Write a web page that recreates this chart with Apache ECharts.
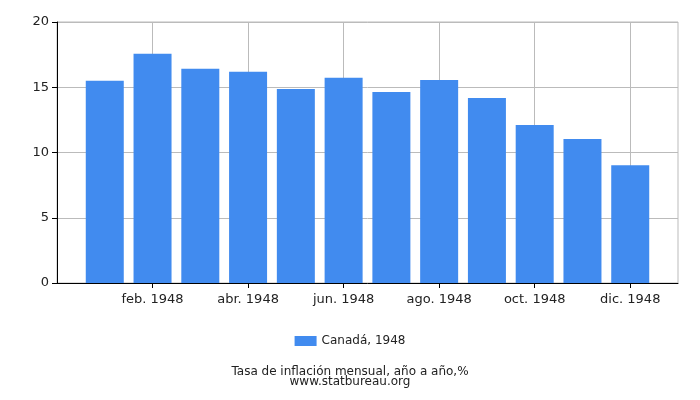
<!DOCTYPE html>
<html><head><meta charset="utf-8">
<script src="https://cdn.jsdelivr.net/npm/echarts@6/dist/echarts.min.js"></script>
<style>html,body{margin:0;padding:0;background:#fff}#c{width:700px;height:400px}</style>
</head><body><div id="c"></div>
<script>
const categories = ['', 'ene. 1948', 'feb. 1948', 'mar. 1948', 'abr. 1948', 'may. 1948', 'jun. 1948', 'jul. 1948', 'ago. 1948', 'sep. 1948', 'oct. 1948', 'nov. 1948', 'dic. 1948', ''];
const values = [null, 15.49, 17.56, 16.41, 16.18, 14.87, 15.72, 14.64, 15.56, 14.18, 12.10, 11.03, 9.03, null];
const yTicks = [0, 5, 10, 15, 20];
const seriesName = 'Canadá, 1948';
const titleText = 'Tasa de inflación mensual, año a año,%';
const subText = 'www.statbureau.org';

const shown = (i) => i % 2 === 0 && i > 0 && i < categories.length - 1;
const chart = echarts.init(document.getElementById('c'));
chart.setOption({
  animation: false,
  textStyle: { fontFamily: 'DejaVu Sans' },
  grid: { left: 57, right: 22, top: 22, bottom: 117, show: true, borderColor: '#bbb', borderWidth: 1 },
  legend: {
    bottom: 48, left: 'center', itemWidth: 22, itemHeight: 10, itemGap: 5, icon: 'rect',
    textStyle: { fontSize: 12, color: '#222', fontFamily: 'DejaVu Sans' },
    data: [seriesName]
  },
  title: {
    text: titleText, subtext: subText, left: 'center', bottom: 7,
    textStyle: { fontSize: 12, fontWeight: 'normal', color: '#222', fontFamily: 'DejaVu Sans' },
    subtextStyle: { fontSize: 12, color: '#222', fontFamily: 'DejaVu Sans' },
    itemGap: -2
  },
  xAxis: {
    type: 'category', data: categories, boundaryGap: false,
    axisLine: { lineStyle: { color: '#000' } },
    axisTick: { interval: (i) => shown(i), length: 5, lineStyle: { color: '#000' } },
    axisLabel: { interval: (i) => shown(i), color: '#222', fontSize: 13, margin: 10 },
    splitLine: { show: true, interval: (i) => shown(i), lineStyle: { color: '#bbb' } }
  },
  yAxis: {
    type: 'value', min: yTicks[0], max: yTicks[yTicks.length - 1], interval: 5,
    axisLine: { show: true, lineStyle: { color: '#000' } },
    axisTick: { show: true, length: 5, lineStyle: { color: '#000' } },
    axisLabel: { color: '#222', fontSize: 13, margin: 8 },
    splitLine: { lineStyle: { color: '#bbb' } }
  },
  series: [{
    name: seriesName, type: 'bar', data: values, barWidth: 38,
    itemStyle: { color: '#418bef' }
  }]
});
</script></body></html>
